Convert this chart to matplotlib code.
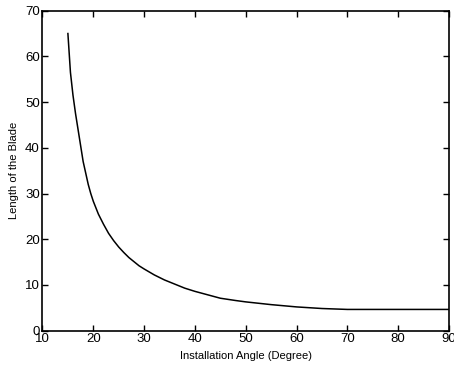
import matplotlib
matplotlib.use('Agg')
import matplotlib.pyplot as plt

# values
angle = [15, 15.5, 16, 16.5, 17, 17.5, 18, 18.5, 19, 19.5, 20, 21, 22, 23,
         24, 25, 26, 27, 28, 29, 30, 32, 34, 36, 38, 40, 42, 45, 48, 50, 55,
         60, 65, 70, 80, 90]
length = [65, 56.5, 51.5, 47.5, 44, 40.5, 37, 34.5, 32, 30, 28.3, 25.5, 23.3,
          21.3, 19.7, 18.3, 17.1, 16, 15.1, 14.2, 13.5, 12.2, 11.1, 10.2, 9.3,
          8.6, 8, 7.1, 6.6, 6.3, 5.7, 5.2, 4.85, 4.65, 4.65, 4.65]

xticks = [10, 20, 30, 40, 50, 60, 70, 80, 90]
yticks = [0, 10, 20, 30, 40, 50, 60, 70]

plt.rcParams['font.family'] = ['Liberation Sans', 'DejaVu Sans']

fig = plt.figure(figsize=(4.54, 3.68), dpi=100)
ax = fig.add_axes([0.0936, 0.1014, 0.8954, 0.8696])
ax.plot(angle, length, color='black', linewidth=1.1)

ax.set_xlim(10, 90)
ax.set_ylim(0, 70)
ax.set_xticks(xticks)
ax.set_yticks(yticks)
ax.tick_params(direction='in', top=True, right=True, length=4, width=1,
               labelsize=9.5, pad=2)
for s in ax.spines.values():
    s.set_linewidth(1.2)

ax.set_xlabel('Installation Angle (Degree)', fontsize=8, labelpad=4)
ax.set_ylabel('Length of the Blade', fontsize=8, labelpad=4)

fig.savefig('out.png', dpi=100)
